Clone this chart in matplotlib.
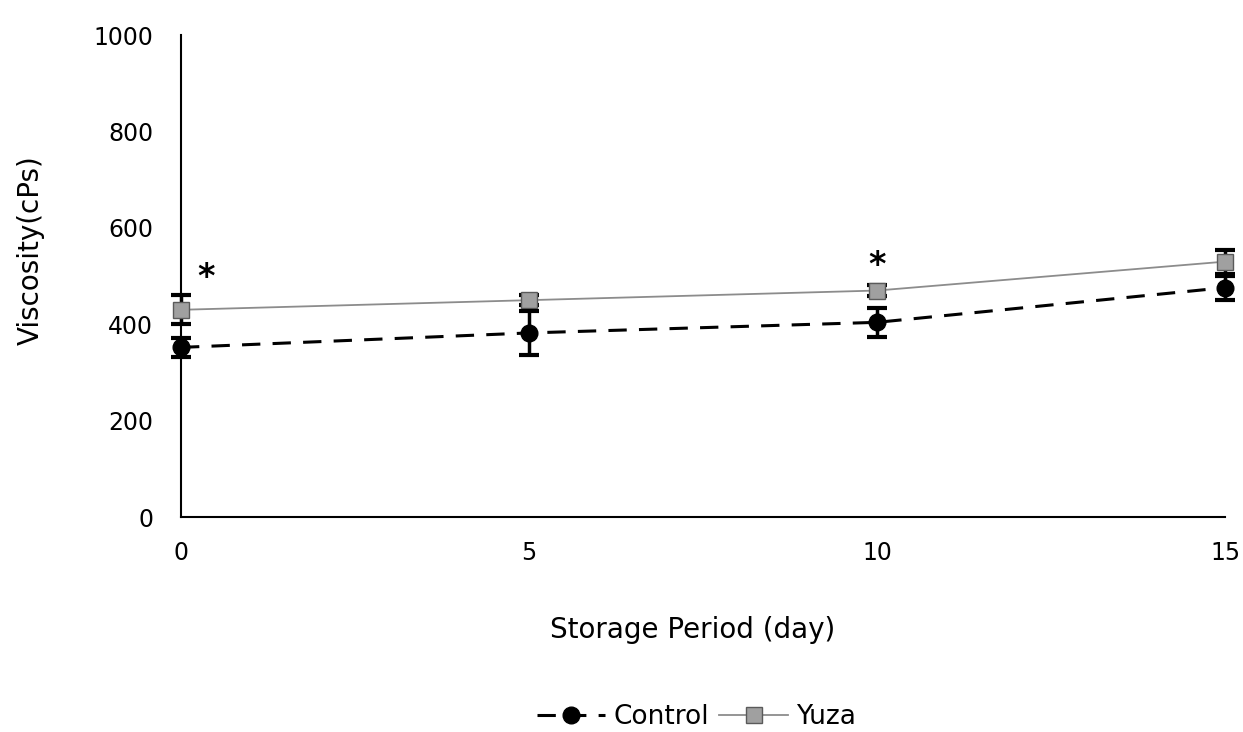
import matplotlib.pyplot as plt
from matplotlib.lines import Line2D
import numpy as np

# Storage days and viscosity (cPs)
days = [0, 5, 10, 15]
control = [352, 382, 404, 476]
control_err = [20, 45, 30, 25]
yuza = [430, 450, 470, 530]
yuza_err = [30, 10, 12, 25]
star_days = [0, 10]
star_vals = [462, 488]

fig = plt.figure(figsize=(12.43, 7.32), dpi=100)
ax = fig.add_axes([0.1456, 0.2937, 0.84, 0.6583])

dash = (0, (6, 4))
yuza_style = dict(color='#8c8c8c', lw=1.3, ls='-', marker='s', ms=11,
                  mfc='#a0a0a0', mec='#5a5a5a')
ctrl_style = dict(color='black', lw=2.2, ls=dash, marker='o', ms=12,
                  mfc='black', mec='black')

def unclip(eb):
    arts = [eb.lines[0]] + list(eb.lines[1]) + list(eb.lines[2])
    for art in arts:
        art.set_clip_on(False)

# Yuza series, thin gray line, square marker
eb = ax.errorbar(days, yuza, yerr=yuza_err, ecolor='black', elinewidth=2.5,
                 capsize=7, capthick=3, zorder=3, **yuza_style)
unclip(eb)
# Control series, dashed black line
eb = ax.errorbar(days, control, yerr=control_err, ecolor='black', elinewidth=2.5,
                 capsize=7, capthick=3, zorder=4, **ctrl_style)
unclip(eb)

for d, v in zip(star_days, star_vals):
    ax.annotate('*', (d, v), xytext=(0 if d else 18, 0), textcoords='offset points',
                ha='center', va='bottom', fontsize=24, fontweight='bold')

ax.set_xlim(0, 15)
ax.set_ylim(0, 1000)
ax.set_xticks([0, 5, 10, 15])
ax.set_yticks(np.arange(0, 1001, 200))
ax.tick_params(length=0, labelsize=17)
ax.tick_params(axis='x', pad=17)
ax.tick_params(axis='y', pad=20)
ax.spines['top'].set_visible(False)
ax.spines['right'].set_visible(False)
ax.spines['left'].set_linewidth(1.5)
ax.spines['bottom'].set_linewidth(1.5)
ax.set_xlabel('Storage Period (day)', fontsize=20)
ax.set_ylabel('Viscosity(cPs)', fontsize=20)
ax.xaxis.set_label_coords(0.49, -0.205)
ax.yaxis.set_label_coords(-0.13, 0.553)

handles = [Line2D([], [], **ctrl_style), Line2D([], [], **yuza_style)]
fig.legend(handles, ['Control', 'Yuza'], loc='lower center', ncol=2, frameon=False,
           fontsize=19, bbox_to_anchor=(0.56, -0.03), handlelength=2.6,
           handletextpad=0.3, columnspacing=0.4)

fig.savefig('out.png', dpi=100)
